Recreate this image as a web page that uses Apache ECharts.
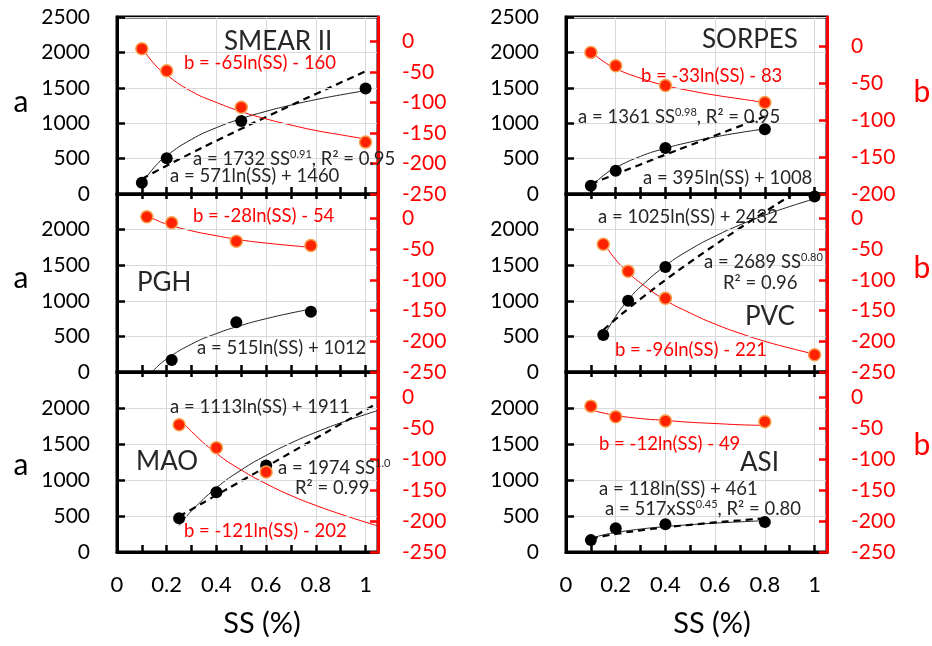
<!DOCTYPE html>
<html><head><meta charset="utf-8">
<script src="https://cdn.jsdelivr.net/npm/echarts@6/dist/echarts.min.js"></script>
<style>html,body{margin:0;padding:0;background:#fff}#c{width:932px;height:646px}</style>
</head><body><div id="c"></div>
<script>
// ---------------- data ----------------
// SMEAR II
const smearSS = [0.1, 0.2, 0.5, 1.0];
const smearA = [160, 505, 1030, 1490];
const smearB = [-12, -48, -108, -165];
const smearFitSS = [0.1, 0.15, 0.2, 0.3, 0.4, 0.5, 0.6, 0.7, 0.8, 0.9, 1.0];
const smearALog = [145, 377, 541, 772, 937, 1064, 1168, 1256, 1333, 1400, 1460];
const smearAPow = [213, 308, 400, 579, 752, 921, 1088, 1252, 1414, 1574, 1732];
const smearBLog = [-10, -37, -55, -82, -100, -115, -127, -137, -146, -153, -160];
// SORPES
const sorpesSS = [0.1, 0.2, 0.4, 0.8];
const sorpesA = [115, 330, 650, 915];
const sorpesB = [-8, -26, -53, -76];
const sorpesFitSS = [0.1, 0.15, 0.2, 0.3, 0.4, 0.5, 0.6, 0.7, 0.8];
const sorpesALog = [98, 259, 372, 532, 646, 734, 806, 867, 920];
const sorpesAPow = [142, 212, 281, 418, 555, 690, 825, 959, 1094];
const sorpesBLog = [-7, -20, -30, -43, -53, -60, -66, -71, -76];
// PGH
const pghSSa = [0.22, 0.48, 0.78];
const pghA = [170, 700, 845];
const pghSSb = [0.12, 0.22, 0.48, 0.78];
const pghB = [3, -7, -37, -44];
const pghFitSS = [0.12, 0.15, 0.2, 0.3, 0.4, 0.5, 0.6, 0.7, 0.78];
const pghALog = [-80, 35, 183, 392, 540, 655, 749, 828, 884];
const pghBLog = [5, -1, -9, -20, -28, -35, -40, -44, -47];
// PVC
const pvcSS = [0.15, 0.25, 0.4, 1.0];
const pvcA = [520, 1000, 1475, 2465];
const pvcB = [-42, -86, -130, -222];
const pvcFitSS = [0.15, 0.2, 0.25, 0.3, 0.4, 0.5, 0.6, 0.7, 0.8, 0.9, 1.0];
const pvcALog = [487, 782, 1011, 1198, 1493, 1722, 1908, 2066, 2203, 2324, 2432];
const pvcAPow = [589, 742, 887, 1027, 1292, 1545, 1787, 2022, 2249, 2472, 2689];
const pvcBLog = [-39, -67, -88, -105, -133, -154, -172, -187, -200, -211, -221];
// MAO
const maoSS = [0.25, 0.4, 0.6];
const maoA = [470, 830, 1200];
const maoB = [-45, -82, -121];
const maoFitSS = [0.25, 0.3, 0.4, 0.5, 0.6, 0.7, 0.8, 0.9, 1.0, 1.05];
const maoALog = [368, 571, 891, 1140, 1342, 1514, 1663, 1794, 1911, 1965];
const maoAPow = [494, 592, 790, 987, 1184, 1382, 1579, 1777, 1974, 2073];
const maoBLog = [-34, -56, -91, -118, -140, -159, -175, -189, -202, -208];
// ASI
const asiSS = [0.1, 0.2, 0.4, 0.8];
const asiA = [165, 330, 385, 415];
const asiB = [-15, -32, -39, -40];
const asiFitSS = [0.1, 0.15, 0.2, 0.3, 0.4, 0.5, 0.6, 0.7, 0.8];
const asiALog = [189, 237, 271, 319, 353, 379, 401, 419, 435];
const asiAPow = [183, 220, 251, 301, 342, 378, 411, 440, 468];
const asiBLog = [-21, -26, -30, -35, -38, -41, -43, -45, -46];

// axis ranges
const xRange = [0, 1.05];
const aRange = [0, 2500];
const bRangeStd = [-250, 40];
const bRangeSorpes = [-200, 40];

// text
const panelTitles = ['SMEAR II', 'SORPES', 'PGH', 'PVC', 'MAO', 'ASI'];
const xAxisTitle = 'SS (%)';

// ---------------- layout / styles ----------------
const FONT = 'Lato, "Open Sans", sans-serif';
const colLeft = [117, 566];
const gridW = 261;
const rowTop = [17, 194, 372];
const rowH = [177, 178, 180];
const GRID_C = '#D9D9D9';
const RED = '#FF0000';

const panels = [
  {col:0,row:0, ssA:smearSS, a:smearA, ssB:smearSS, b:smearB, fit:smearFitSS, aLog:smearALog, aPow:smearAPow, bLog:smearBLog, bRange:bRangeStd},
  {col:1,row:0, ssA:sorpesSS, a:sorpesA, ssB:sorpesSS, b:sorpesB, fit:sorpesFitSS, aLog:sorpesALog, aPow:sorpesAPow, bLog:sorpesBLog, bRange:bRangeSorpes},
  {col:0,row:1, ssA:pghSSa, a:pghA, ssB:pghSSb, b:pghB, fit:pghFitSS, aLog:pghALog, aPow:null, bLog:pghBLog, bRange:bRangeStd},
  {col:1,row:1, ssA:pvcSS, a:pvcA, ssB:pvcSS, b:pvcB, fit:pvcFitSS, aLog:pvcALog, aPow:pvcAPow, bLog:pvcBLog, bRange:bRangeStd},
  {col:0,row:2, ssA:maoSS, a:maoA, ssB:maoSS, b:maoB, fit:maoFitSS, aLog:maoALog, aPow:maoAPow, bLog:maoBLog, bRange:bRangeStd},
  {col:1,row:2, ssA:asiSS, a:asiA, ssB:asiSS, b:asiB, fit:asiFitSS, aLog:asiALog, aPow:asiAPow, bLog:asiBLog, bRange:bRangeStd}
];

const zip = (xs, ys) => xs.map((x, k) => [x, ys[k]]);
const xLabelFmt = v => {
  const t = Math.round(v * 10);
  if (Math.abs(v * 10 - t) > 1e-6 || t % 2) return '';
  return String(t / 10);
};
const plainFmt = v => String(v);

const grids = [], xAxes = [], yAxes = [], series = [];
panels.forEach((p, i) => {
  grids.push({left: colLeft[p.col], top: rowTop[p.row], width: gridW, height: rowH[p.row],
    show: true, borderColor: '#000', borderWidth: 3, backgroundColor: 'transparent'});
  const xi = xAxes.length;
  xAxes.push({type:'value', gridIndex:i, position:'bottom', min:xRange[0], max:xRange[1], interval:0.1,
    axisLine:{show:true, onZero:false, lineStyle:{color:'#000', width:3}},
    axisTick:{show:true, inside:true, length:7, lineStyle:{color:'#000', width:2.5}},
    axisLabel:{show:p.row===2, formatter:xLabelFmt, fontSize:22, margin:22, color:'#000', fontFamily:FONT},
    splitLine:{show:false}, z:4});
  xAxes.push({type:'value', gridIndex:i, position:'top', min:xRange[0], max:xRange[1], interval:0.2,
    axisLine:{show:false, onZero:false}, axisTick:{show:false}, axisLabel:{show:false},
    splitLine:{show:true, lineStyle:{color:GRID_C, width:1}}});
  xAxes.push({type:'value', gridIndex:i, position:'bottom', min:xRange[0], max:xRange[1], interval:0.1,
    axisLine:{show:false, onZero:false}, axisTick:{show:p.row!==2, inside:false, length:5, lineStyle:{color:'#000', width:2.5}},
    axisLabel:{show:false}, splitLine:{show:false}, z:4});
  const yi = yAxes.length;
  yAxes.push({type:'value', gridIndex:i, position:'left', min:aRange[0], max:aRange[1], interval:500,
    axisLine:{show:true, onZero:false, lineStyle:{color:'#000', width:3}},
    axisTick:{show:true, inside:true, length:8, lineStyle:{color:'#000', width:2.5}},
    axisLabel:{fontSize:21, color:'#000', margin:27, fontFamily:FONT, showMaxLabel:p.row===0, formatter:plainFmt},
    splitLine:{show:true, lineStyle:{color:GRID_C, width:1}}, z:4});
  yAxes.push({type:'value', gridIndex:i, position:'right', min:p.bRange[0], max:p.bRange[1], interval:50,
    axisLine:{show:true, onZero:false, lineStyle:{color:RED, width:3}},
    axisTick:{show:true, inside:true, length:8, lineStyle:{color:RED, width:2.5}},
    axisLabel:{fontSize:21, color:RED, margin:24, fontFamily:FONT, showMaxLabel:false, formatter:plainFmt},
    splitLine:{show:false}, z:5});
  series.push({type:'line', xAxisIndex:xi, yAxisIndex:yi, data:zip(p.fit, p.aLog), smooth:true,
    symbol:'none', lineStyle:{color:'#222', width:1}, z:2, silent:true});
  if (p.aPow) series.push({type:'line', xAxisIndex:xi, yAxisIndex:yi, data:zip(p.fit, p.aPow), smooth:true,
    symbol:'none', lineStyle:{color:'#000', width:2.2, type:[7,5]}, z:2, silent:true});
  series.push({type:'line', xAxisIndex:xi, yAxisIndex:yi+1, data:zip(p.fit, p.bLog), smooth:true,
    symbol:'none', lineStyle:{color:RED, width:1}, z:2, silent:true});
  series.push({type:'scatter', xAxisIndex:xi, yAxisIndex:yi, data:zip(p.ssA, p.a), symbolSize:12,
    itemStyle:{color:'#000', opacity:1}, z:5});
  series.push({type:'scatter', xAxisIndex:xi, yAxisIndex:yi+1, data:zip(p.ssB, p.b), symbolSize:12,
    itemStyle:{color:'#FF2200', borderColor:'#F5A04E', borderWidth:1.5, opacity:1}, z:6});
});

// ---------------- annotations ----------------
const EQ = 18.5, TITLE = 26;
const notes = [
  // [text, x, y, color, size]
  [panelTitles[0], 224, 42, '#262626', TITLE],
  [panelTitles[1], 702, 40, '#262626', TITLE],
  [panelTitles[2], 137, 283, '#262626', TITLE],
  [panelTitles[3], 745, 317, '#262626', TITLE],
  [panelTitles[4], 136, 462, '#262626', TITLE],
  [panelTitles[5], 740, 463, '#262626', TITLE],
  ['b = -65ln(SS) - 160', 184, 63, RED, EQ],
  ['a = 1732 SS^0.91^, R² = 0.95', 193, 159, '#262626', EQ],
  ['a = 571ln(SS) + 1460', 170, 176, '#262626', EQ],
  ['b = -33ln(SS) - 83', 641, 76, RED, EQ],
  ['a = 1361 SS^0.98^, R² = 0.95', 578, 117, '#262626', EQ],
  ['a = 395ln(SS) + 1008', 643, 178, '#262626', EQ],
  ['b = -28ln(SS) - 54', 193, 216, RED, EQ],
  ['a = 515ln(SS) + 1012', 197, 348, '#262626', EQ],
  ['a = 1025ln(SS) + 2432', 598, 217, '#262626', EQ],
  ['a = 2689 SS^0.80^', 704, 262, '#262626', EQ],
  ['R² = 0.96', 723, 283, '#262626', EQ],
  ['b = -96ln(SS) - 221', 615, 350, RED, EQ],
  ['a = 1113ln(SS) + 1911', 170, 407, '#262626', EQ],
  ['a = 1974 SS^1.0^', 278, 468, '#262626', EQ],
  ['R² = 0.99', 295, 488, '#262626', EQ],
  ['b = -121ln(SS) - 202', 184, 531, RED, EQ],
  ['b = -12ln(SS) - 49', 599, 444, RED, EQ],
  ['a = 118ln(SS) + 461', 599, 489, '#262626', EQ],
  ['a = 517xSS^0.45^, R² = 0.80', 605, 509, '#262626', EQ]
];
const toRich = s => s.split('^').map((seg, k) => seg ? (k % 2 ? '{s|' + seg + '}' : '{n|' + seg + '}') : '').join('');
const graphics = notes.map(([t, x, y, c, fs]) => ({
  type:'text', x, y, z:20, silent:true,
  style:{text: toRich(t), align:'left', verticalAlign:'middle',
    rich:{n:{fontSize:fs, fontFamily:FONT, fill:c, lineHeight:fs+2},
          s:{fontSize:Math.round(fs*0.62), fontFamily:FONT, fill:c, lineHeight:Math.round(fs*0.55), verticalAlign:'top'}}}
}));
// axis names
[[102, 'a'], [278, 'a'], [465, 'a']].forEach(([y, t]) => graphics.push({type:'text', x:21, y, z:20,
  style:{text:t, fill:'#000', fontSize:30, fontFamily:FONT, align:'center', verticalAlign:'middle'}}));
[[92, 'b'], [268, 'b'], [445, 'b']].forEach(([y, t]) => graphics.push({type:'text', x:922, y, z:20,
  style:{text:t, fill:RED, fontSize:30, fontFamily:FONT, align:'center', verticalAlign:'middle'}}));
[[262, 624], [712, 624]].forEach(([x, y]) => graphics.push({type:'text', x, y, z:20,
  style:{text:xAxisTitle, fill:'#000', fontSize:29, fontFamily:FONT, align:'center', verticalAlign:'middle'}}));

const chart = echarts.init(document.getElementById('c'), null, {renderer:'canvas'});
chart.setOption({
  animation:false,
  backgroundColor:'#fff',
  grid:grids, xAxis:xAxes, yAxis:yAxes, series, graphic:graphics
});
</script></body></html>
